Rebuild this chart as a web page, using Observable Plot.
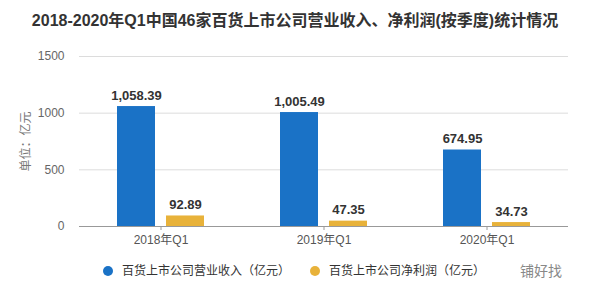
<!DOCTYPE html>
<html>
<head>
<meta charset="utf-8">
<script src="https://cdn.jsdelivr.net/npm/d3@7"></script>
<script src="https://cdn.jsdelivr.net/npm/@observablehq/plot@0.6"></script>
<style>
  html, body { margin: 0; padding: 0; background: #fff; }
  body { width: 590px; height: 292px; overflow: hidden; font-family: "Liberation Sans", "Noto Sans CJK SC", sans-serif; }
  #title { height: 38px; box-sizing: border-box; padding-top: 4px; line-height: 34px; text-align: center; font-size: 16px; font-weight: bold; color: #333; white-space: nowrap; }
  #legend { position: relative; height: 36px; font-size: 12px; color: #333; }
  .item { position: absolute; top: 6px; height: 18px; line-height: 18px; white-space: nowrap; }
  .dot { display: inline-block; width: 10px; height: 10px; border-radius: 50%; vertical-align: middle; margin-right: 9px; position: relative; top: -1px; }
  .wm { position: absolute; left: 520px; top: 6px; line-height: 18px; color: #888; font-size: 14px; }
</style>
</head>
<body>
<div id="title">2018-2020年Q1中国46家百货上市公司营业收入、净利润(按季度)统计情况</div>
<div id="chart"></div>
<div id="legend"></div>
<script>
const categories = ["2018年Q1", "2019年Q1", "2020年Q1"];
const seriesNames = ["百货上市公司营业收入（亿元）", "百货上市公司净利润（亿元）"];
const revenue = [1058.39, 1005.49, 674.95];
const profit = [92.89, 47.35, 34.73];
const colors = ["#1a72c6", "#e8b23a"];
const yTicks = [0, 500, 1000, 1500];

const table = [];
categories.forEach((c, i) => {
  table.push({cat: c, series: seriesNames[0], value: revenue[i]});
  table.push({cat: c, series: seriesNames[1], value: profit[i]});
});
const fmt = d3.format(",.2f");

const chart = Plot.plot({
  width: 590,
  height: 218,
  marginLeft: 78,
  marginRight: 22,
  marginTop: 18,
  marginBottom: 30,
  style: {fontFamily: "'Liberation Sans', 'Noto Sans CJK SC', sans-serif", background: "#fff"},
  fx: {domain: categories, paddingInner: 0, paddingOuter: 0, label: null},
  x: {domain: seriesNames, paddingInner: 0.2245, paddingOuter: 0, inset: 38, axis: null},
  y: {domain: [0, 1500], label: null},
  color: {domain: seriesNames, range: colors},
  marks: [
    Plot.gridY(yTicks, {stroke: "#dcdcdc", strokeOpacity: 1}),
    Plot.axisY(yTicks, {tickSize: 0, tickPadding: 15, tickFormat: d3.format("d"), fontSize: 12, fill: "#666", label: "单位：亿元", labelAnchor: "center", labelOffset: 58, labelArrow: false}),
    Plot.barY(table, {fx: "cat", x: "series", y: "value", fill: "series"}),
    Plot.text(table, {fx: "cat", x: "series", y: "value", text: d => fmt(d.value), dy: -11, fontSize: 13, fontWeight: "bold", fill: "#333"}),
    Plot.ruleY([0], {stroke: "#999"}),
    Plot.axisFx({anchor: "bottom", tickSize: 4, tickPadding: 5, fontSize: 12, fill: "#555", stroke: "#999", label: null})
  ]
});
document.getElementById("chart").appendChild(chart);

chart.querySelectorAll("text").forEach(t => { if (t.textContent === "单位：亿元") t.setAttribute("fill", "#777"); });

const legend = document.getElementById("legend");
const lefts = [103, 310];
seriesNames.forEach((s, i) => {
  const it = document.createElement("div");
  it.className = "item";
  it.style.left = lefts[i] + "px";
  it.innerHTML = `<span class="dot" style="background:${colors[i]}"></span>${s}`;
  legend.appendChild(it);
});
const wm = document.createElement("div");
wm.className = "wm";
wm.textContent = "铺好找";
legend.appendChild(wm);
</script>
</body>
</html>
